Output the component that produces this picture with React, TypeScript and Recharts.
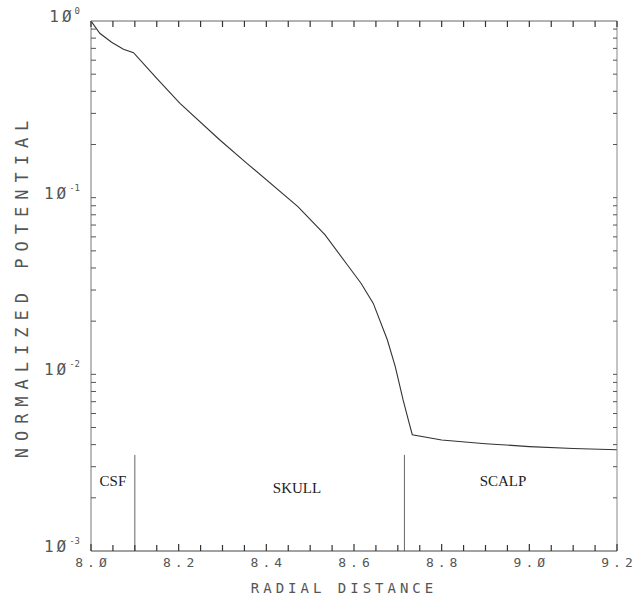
import { LineChart, Line, XAxis, YAxis, ReferenceLine, ReferenceDot } from 'recharts'

// radial distance vs normalized potential
const distance = [8.0, 8.02, 8.047, 8.074, 8.097, 8.15, 8.203, 8.294, 8.355, 8.472, 8.534, 8.585, 8.616, 8.644, 8.676, 8.694, 8.712, 8.726, 8.733, 8.8, 8.9, 9.0, 9.1, 9.2]
const potential = [1.0, 0.852, 0.758, 0.692, 0.662, 0.474, 0.342, 0.212, 0.157, 0.089, 0.0615, 0.0416, 0.0328, 0.0252, 0.0157, 0.0111, 0.00716, 0.00528, 0.00455, 0.00425, 0.00405, 0.0039, 0.0038, 0.00374]

const xTicks = [8.0, 8.2, 8.4, 8.6, 8.8, 9.0, 9.2]
const xTickLabels = ['8.Ø', '8.2', '8.4', '8.6', '8.8', '9.Ø', '9.2']
const xMinorTicks = [8.0, 8.05, 8.1, 8.15, 8.2, 8.25, 8.3, 8.35, 8.4, 8.45, 8.5, 8.55, 8.6, 8.65, 8.7, 8.75, 8.8, 8.85, 8.9, 8.95, 9.0, 9.05, 9.1, 9.15, 9.2]

const yTicks = [0.001, 0.01, 0.1, 1]
const yExponents = ['-3', '-2', '-1', '0']
const yMinorTicks = [
  0.002, 0.003, 0.004, 0.005, 0.006, 0.007, 0.008, 0.009,
  0.01, 0.02, 0.03, 0.04, 0.05, 0.06, 0.07, 0.08, 0.09,
  0.1, 0.2, 0.3, 0.4, 0.5, 0.6, 0.7, 0.8, 0.9,
]

// layer boundaries and labels
const boundaries = [8.1, 8.715]
const boundaryTop = 0.0035
const layers = ['CSF', 'SKULL', 'SCALP']
const layerX = [8.05, 8.47, 8.94]
const layerY = [0.0025, 0.00228, 0.0025]

const data = distance.map((x, i) => ({ x, y: potential[i] }))

const mono = '"DejaVu Sans Mono", monospace'
const ink = '#555'

// bottom axis: inward tick mark on every minor position, text on the majors
function XTick({ x, y, payload }: any) {
  const idx = xTicks.findIndex((v) => Math.abs(v - payload.value) < 1e-6)
  const major = idx >= 0
  return (
    <g>
      <path d={`M${x},${y}V${y - (major ? 7 : 6)}`} stroke="#333" strokeWidth={1.2} fill="none" />
      {major && (
        <text x={x + 2} y={y + 16} textAnchor="middle" fontFamily={mono} fontSize={13} letterSpacing={4} fill={ink}>
          {xTickLabels[idx]}
        </text>
      )}
    </g>
  )
}

// top axis: inward tick mark only
function TopTick({ x, y }: any) {
  return <path d={`M${x},${y}V${y + 6}`} stroke="#333" strokeWidth={1.2} fill="none" />
}

function YTick({ x, y, payload }: any) {
  const exp = yExponents[yTicks.indexOf(payload.value)]
  return (
    <text x={x - 3} y={y + 1} textAnchor="end" fontFamily={mono} fill={ink}>
      <tspan fontSize={16} letterSpacing={3}>1Ø</tspan>
      <tspan fontSize={9} dy={-8}>{exp}</tspan>
    </text>
  )
}

function NoLabel() {
  return <g />
}

export default function App() {
  return (
    <div style={{ position: 'absolute', left: 0, top: 0, background: '#fff' }}>
      <LineChart width={644} height={599} data={data} margin={{ top: 0, right: 27, bottom: 0, left: 0 }}>
        <XAxis
          xAxisId="main"
          dataKey="x"
          type="number"
          domain={[8, 9.2]}
          allowDataOverflow
          ticks={xMinorTicks}
          interval={0}
          tick={<XTick />}
          tickSize={0}
          tickMargin={0}
          tickLine={false}
          axisLine={{ stroke: '#444' }}
          height={48}
          label={{
            content: ({ viewBox }: any) => (
              <text
                x={viewBox.x + viewBox.width / 2 - 10}
                y={viewBox.y + 42}
                textAnchor="middle"
                fontFamily={mono}
                fontSize={14}
                letterSpacing={4}
                fill={ink}
              >
                RADIAL DISTANCE
              </text>
            ),
          }}
        />
        <XAxis xAxisId="top" dataKey="x" type="number" domain={[8, 9.2]} allowDataOverflow ticks={xMinorTicks} interval={0}
          orientation="top" height={21} tick={<TopTick />} tickSize={0} tickMargin={0} tickLine={false} axisLine={{ stroke: '#666' }} />
        <YAxis
          yAxisId="main"
          dataKey="y"
          type="number"
          scale="log"
          domain={[0.001, 1]}
          allowDataOverflow
          ticks={yTicks}
          tick={<YTick />}
          tickLine={false}
          axisLine={{ stroke: '#777' }}
          width={91}
          label={{
            content: ({ viewBox }: any) => {
              const cx = 22
              const cy = viewBox.y + viewBox.height / 2
              return (
                <text
                  x={cx}
                  y={cy}
                  transform={`rotate(-90 ${cx} ${cy})`}
                  textAnchor="middle"
                  dominantBaseline="central"
                  fontFamily={mono}
                  fontSize={17}
                  letterSpacing={7}
                  fill={ink}
                >
                  NORMALIZED POTENTIAL
                </text>
              )
            },
          }}
        />
        <YAxis yAxisId="leftMinor" dataKey="y" type="number" scale="log" domain={[0.001, 1]} allowDataOverflow ticks={yMinorTicks} interval={0}
          mirror orientation="left" tick={<NoLabel />} axisLine={false} tickSize={5} tickLine={{ stroke: ink }} />
        <YAxis yAxisId="rightMinor" dataKey="y" type="number" scale="log" domain={[0.001, 1]} allowDataOverflow ticks={yMinorTicks} interval={0}
          mirror orientation="right" tick={<NoLabel />} axisLine={{ stroke: '#888' }} tickSize={4} tickLine={{ stroke: ink }} />

        {boundaries.map((b) => (
          <ReferenceLine
            key={b}
            xAxisId="main"
            yAxisId="main"
            segment={[{ x: b, y: 0.001 }, { x: b, y: boundaryTop }]}
            stroke="#666"
            strokeWidth={1}
          />
        ))}
        {layers.map((name, i) => (
          <ReferenceDot
            key={name}
            xAxisId="main"
            yAxisId="main"
            x={layerX[i]}
            y={layerY[i]}
            r={0}
            fill="none"
            stroke="none"
            label={{ value: name, position: 'center', fill: '#222', fontFamily: '"Liberation Serif", serif', fontSize: 15 }}
          />
        ))}

        <Line
          xAxisId="main"
          yAxisId="main"
          type="linear"
          dataKey="y"
          stroke="#333"
          strokeWidth={1.1}
          dot={false}
          isAnimationActive={false}
        />
      </LineChart>
    </div>
  )
}
